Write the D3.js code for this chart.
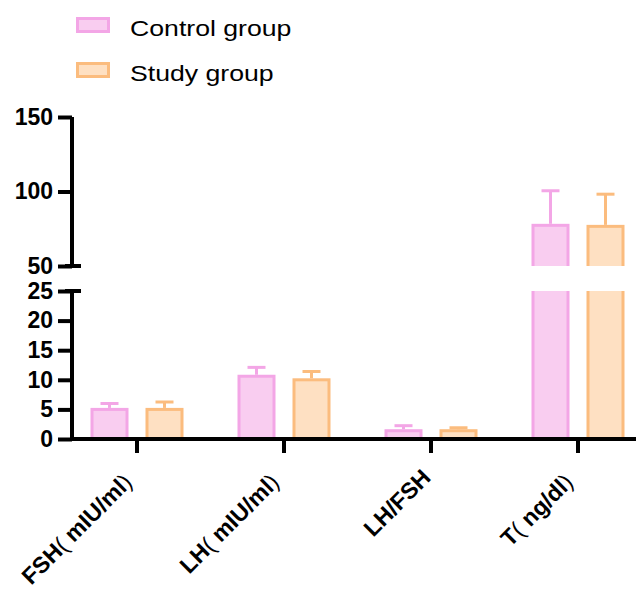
<!DOCTYPE html>
<html>
<head>
<meta charset="utf-8">
<script src="https://d3js.org/d3.v7.min.js"></script>
<style>
  body { margin: 0; background: #fff; }
  text { font-family: "Liberation Sans", Arial, "Noto Sans CJK SC", sans-serif; }
</style>
</head>
<body>
<svg id="viz" width="636" height="591"></svg>
<script>
// chart values
var categories = ["FSH（mIU/ml）", "LH（mIU/ml）", "LH/FSH", "T（ng/dl）"];
var series = ["Control group", "Study group"];
var controlMean = [5.0, 10.6, 1.4, 77.3];
var controlSD = [1.0, 1.5, 0.85, 23.2];
var studyMean = [5.0, 10.0, 1.4, 76.6];
var studySD = [1.25, 1.4, 0.5, 21.6];
var lowerTicks = [0, 5, 10, 15, 20, 25];
var upperTicks = [50, 100, 150];

var fills = {"Control group": "#f9cdf0", "Study group": "#fee0c2"};
var strokes = {"Control group": "#f3a6e6", "Study group": "#fbbc7e"};

var svg = d3.select("#viz");

var axisX = 72;
var yLow = d3.scaleLinear().domain([0, 25]).range([439, 291]);
var yHigh = d3.scaleLinear().domain([50, 150]).range([266, 117]);

var x = d3.scaleBand().domain(categories).range([63.5, 651.5]);
var xs = d3.scaleBand().domain(series).range([28.5, 118.5]).paddingInner(20 / 55);

var rows = [];
categories.forEach(function(c, i) {
  rows.push({cat: c, s: "Control group", v: controlMean[i], sd: controlSD[i]});
  rows.push({cat: c, s: "Study group", v: studyMean[i], sd: studySD[i]});
});

// clip areas for the two panels
var defs = svg.append("defs");
defs.append("clipPath").attr("id", "clipLow").append("rect")
  .attr("x", 0).attr("y", yLow(25)).attr("width", 636).attr("height", yLow(0) - yLow(25) + 2);
defs.append("clipPath").attr("id", "clipHigh").append("rect")
  .attr("x", 0).attr("y", 0).attr("width", 636).attr("height", yHigh(50));

var lowG = svg.append("g").attr("clip-path", "url(#clipLow)");
var highG = svg.append("g").attr("clip-path", "url(#clipHigh)");

function barX(d) { return x(d.cat) + xs(d.s); }

// lower panel bars
lowG.selectAll("rect").data(rows).enter().append("rect")
  .attr("x", barX)
  .attr("width", xs.bandwidth())
  .attr("y", function(d) { return d.v > 25 ? yLow(25) - 10 : yLow(d.v); })
  .attr("height", function(d) { return yLow(0) - (d.v > 25 ? yLow(25) - 10 : yLow(d.v)); })
  .attr("fill", function(d) { return fills[d.s]; })
  .attr("stroke", function(d) { return strokes[d.s]; })
  .attr("stroke-width", 3);

// upper panel bars
var tall = rows.filter(function(d) { return d.v > 50; });
highG.selectAll("rect").data(tall).enter().append("rect")
  .attr("x", barX)
  .attr("width", xs.bandwidth())
  .attr("y", function(d) { return yHigh(d.v); })
  .attr("height", function(d) { return yHigh(50) + 10 - yHigh(d.v); })
  .attr("fill", function(d) { return fills[d.s]; })
  .attr("stroke", function(d) { return strokes[d.s]; })
  .attr("stroke-width", 3);

// error bars (upper only)
function yAny(v) { return v > 25 ? yHigh(v) : yLow(v); }
var err = svg.append("g");
rows.forEach(function(d) {
  var cx = barX(d) + xs.bandwidth() / 2;
  err.append("line")
    .attr("x1", cx).attr("x2", cx)
    .attr("y1", yAny(d.v) - 1.5).attr("y2", yAny(d.v + d.sd))
    .attr("stroke", strokes[d.s]).attr("stroke-width", 3);
  err.append("line")
    .attr("x1", cx - 9).attr("x2", cx + 9)
    .attr("y1", yAny(d.v + d.sd)).attr("y2", yAny(d.v + d.sd))
    .attr("stroke", strokes[d.s]).attr("stroke-width", 3);
});

// y axes
function styleAxis(g) {
  g.selectAll(".domain").remove();
  g.selectAll(".tick line").attr("stroke", "#000").attr("stroke-width", 4);
  g.selectAll(".tick text")
    .attr("fill", "#000")
    .style("font-size", "23px")
    .style("font-weight", "bold");
}

svg.append("g")
  .attr("transform", "translate(" + axisX + ",0)")
  .call(d3.axisLeft(yLow).tickValues(lowerTicks).tickSize(14).tickPadding(5))
  .call(styleAxis);
svg.append("g")
  .attr("transform", "translate(" + axisX + ",0)")
  .call(d3.axisLeft(yHigh).tickValues(upperTicks).tickSize(14).tickPadding(5))
  .call(styleAxis);

// axis lines with break marks
svg.append("line").attr("x1", axisX).attr("x2", axisX)
  .attr("y1", yLow(25)).attr("y2", yLow(0) + 2).attr("stroke", "#000").attr("stroke-width", 4);
svg.append("line").attr("x1", axisX).attr("x2", axisX)
  .attr("y1", yHigh(150)).attr("y2", yHigh(50)).attr("stroke", "#000").attr("stroke-width", 4);
[yLow(25), yHigh(50)].forEach(function(yy) {
  svg.append("line").attr("x1", axisX - 7).attr("x2", axisX + 9)
    .attr("y1", yy).attr("y2", yy).attr("stroke", "#000").attr("stroke-width", 4);
});

// x axis
var xg = svg.append("g")
  .attr("transform", "translate(0," + yLow(0) + ")")
  .call(d3.axisBottom(x).tickSize(14).tickFormat(""));
xg.select(".domain").remove();
xg.selectAll(".tick line").attr("stroke", "#000").attr("stroke-width", 4);
svg.append("line").attr("x1", axisX - 2).attr("x2", 636)
  .attr("y1", yLow(0)).attr("y2", yLow(0)).attr("stroke", "#000").attr("stroke-width", 4);

// category labels: full-width brackets drawn thin, with the gap the original font leaves
var labels = svg.append("g").selectAll("text").data(categories).enter().append("text")
  .attr("transform", function(d) {
    return "translate(" + (x(d) + x.bandwidth() / 2 + 1) + "," + (yLow(0) + 40) + ") rotate(-45)";
  })
  .attr("text-anchor", "end")
  .style("font-size", "23px")
  .style("font-weight", "bold")
  .style("white-space", "pre");

labels.each(function(d) {
  var t = d3.select(this);
  var m = d.match(/^(.*)（(.*)）$/);
  if (!m) { t.text(d); return; }
  t.append("tspan").text(m[1]);
  t.append("tspan").style("font-weight", "normal").text("(");
  t.append("tspan").text(" " + m[2]);
  t.append("tspan").style("font-weight", "normal").text(")");
  t.append("tspan").text(" ");
});

// legend
var legend = svg.append("g");
series.forEach(function(s, i) {
  legend.append("rect")
    .attr("x", 77.5).attr("y", 18.5 + i * 45)
    .attr("width", 31).attr("height", 13)
    .attr("fill", fills[s]).attr("stroke", strokes[s]).attr("stroke-width", 3);
  legend.append("text")
    .attr("transform", "translate(130," + (36 + i * 45) + ") scale(1.24,1)")
    .style("font-size", "21.5px")
    .attr("fill", "#000")
    .text(s);
});
</script>
</body>
</html>
